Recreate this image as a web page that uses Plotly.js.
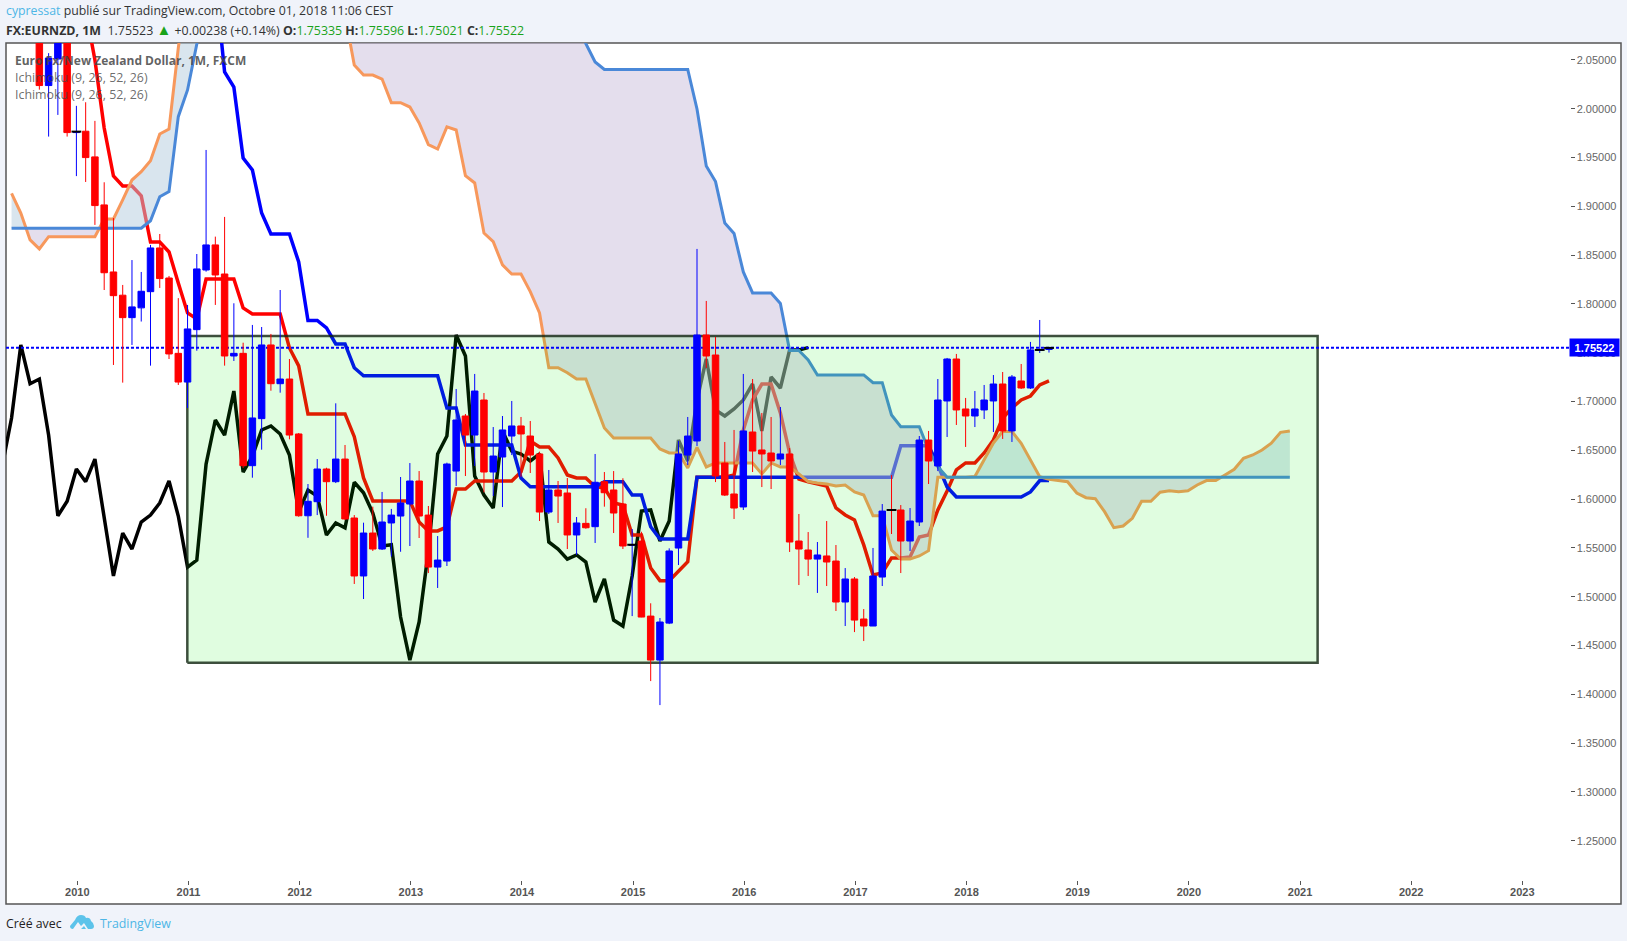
<!DOCTYPE html>
<html><head><meta charset="utf-8">
<script src="https://cdn.plot.ly/plotly-3.0.1.min.js"></script>
<style>html,body{margin:0;padding:0;background:#f0f3fa;overflow:hidden}#chart{width:1627px;height:941px}
#logo{position:absolute;left:70px;top:914px}</style></head>
<body><div id="chart"></div>
<svg id="logo" width="24" height="16" viewBox="0 0 24 16"><path fill="#5cc3ea" d="M0 12 L5 6 Q7 1 11 1 Q15 1 16 4 Q20 3 21 7 Q24 9 24 12 Q24 15 21 15 L18 15 L14 9 L11 12 L8 8 L3 15 Q0 15 0 12Z"/><path fill="#5cc3ea" d="M8 11 L11 15 L16 15 L14 12 L11 15Z"/></svg>
<script>
// month index: 0 = Jan 2010
const candleStart = -4;
const opens = [
2.09,2.0238,2.051,2.09,1.9756,1.977,1.9507,1.9015,1.8328,1.809,
1.786,1.796,1.8126,1.8574,1.8266,1.7494,1.72,1.7737,1.8348,1.8605,
1.8307,1.7467,1.7494,1.6343,1.6825,1.758,1.7183,1.7231,1.6668,1.583,
1.5974,1.6309,1.6179,1.6411,1.5807,1.5213,1.5653,1.5489,1.5756,1.5827,
1.595,1.6186,1.5837,1.5304,1.5366,1.6288,1.6852,1.6657,1.7016,1.6278,
1.6432,1.6647,1.675,1.6647,1.6463,1.5868,1.6094,1.6063,1.5633,1.5752,
1.5718,1.6179,1.6094,1.595,1.5528,1.5571,1.4802,1.4351,1.473,1.5499,
1.6452,1.6596,1.7682,1.7477,1.637,1.6053,1.592,1.6688,1.6504,1.6473,
1.6411,1.6463,1.5571,1.5479,1.5386,1.5418,1.5366,1.4946,1.5182,1.4772,
1.47,1.5202,1.589,1.5889,1.5571,1.5766,1.6606,1.634,1.7006,1.7436,
1.6924,1.6852,1.6914,1.7006,1.718,1.6699,1.7211,1.7139,1.7525,1.75335];
const highs = [
2.11,2.057,2.10,2.12,2.003,2.0067,1.9876,1.9247,1.888,1.8195,
1.845,1.8328,1.8605,1.8717,1.8287,1.806,1.799,1.8512,1.9578,1.869,
1.8892,1.8007,1.7603,1.7785,1.7764,1.7693,1.8143,1.7436,1.6678,1.6155,
1.6411,1.6322,1.6982,1.6555,1.5837,1.5759,1.5923,1.6074,1.59,1.6227,
1.637,1.6288,1.593,1.5622,1.6374,1.7129,1.6873,1.7283,1.7088,1.6739,
1.6852,1.7006,1.6842,1.6801,1.6487,1.6299,1.6186,1.6217,1.5817,1.5907,
1.6463,1.6278,1.6288,1.6214,1.5694,1.5666,1.4933,1.4782,1.5496,1.6596,
1.6842,1.8564,1.8031,1.7662,1.6586,1.6709,1.7283,1.7231,1.6883,1.6842,
1.6944,1.6524,1.5848,1.5663,1.5561,1.5776,1.553,1.5294,1.5202,1.4874,
1.55,1.595,1.6247,1.594,1.5909,1.6647,1.6699,1.7231,1.7447,1.7488,
1.7037,1.7108,1.717,1.7272,1.7303,1.7272,1.7385,1.7611,1.7836,1.75596];
const lows = [
2.0196,1.9715,1.9937,1.9715,1.931,1.925,1.881,1.8143,1.7375,1.7194,
1.758,1.782,1.7368,1.8164,1.7436,1.717,1.6934,1.7521,1.8331,1.799,
1.7368,1.7416,1.632,1.622,1.6507,1.7111,1.7091,1.6613,1.582,1.5604,
1.5837,1.583,1.6165,1.5786,1.5131,1.4977,1.5469,1.5479,1.5411,1.5461,
1.552,1.5602,1.5243,1.509,1.5315,1.6135,1.6237,1.634,1.607,1.6032,
1.5919,1.6452,1.623,1.6268,1.5776,1.5848,1.5756,1.5489,1.5428,1.5697,
1.5551,1.5923,1.5653,1.5489,1.4802,1.479,1.4136,1.389,1.472,1.5325,
1.635,1.6545,1.7344,1.6175,1.6032,1.5797,1.5889,1.6278,1.6124,1.6104,
1.635,1.5459,1.512,1.5213,1.5039,1.511,1.4854,1.47,1.4638,1.4546,
1.47,1.511,1.5643,1.5243,1.5469,1.5725,1.6155,1.6288,1.6637,1.676,
1.6535,1.6739,1.6821,1.6688,1.6617,1.6586,1.7129,1.7129,1.7498,1.75021];
const closes = [
2.0238,2.052,2.09,1.9756,1.9766,1.95,1.9008,1.832,1.8085,1.786,
1.797,1.813,1.8574,1.826,1.7488,1.72,1.7744,1.8359,1.8605,1.8297,
1.7467,1.7494,1.6343,1.6832,1.758,1.7183,1.7231,1.6657,1.583,1.5978,
1.6309,1.6179,1.6411,1.5797,1.5213,1.5653,1.5489,1.5766,1.5837,1.5961,
1.6186,1.5827,1.5304,1.5376,1.636,1.6811,1.6657,1.7108,1.6278,1.6442,
1.6709,1.675,1.6668,1.6452,1.5868,1.6094,1.6032,1.5633,1.5756,1.5707,
1.6173,1.6066,1.5858,1.552,1.5533,1.4792,1.4351,1.4741,1.5469,1.6463,
1.6647,1.7682,1.7467,1.6237,1.6042,1.5909,1.6699,1.6493,1.6463,1.6391,
1.6463,1.5561,1.5489,1.5386,1.5428,1.5356,1.4946,1.5182,1.4761,1.47,
1.5213,1.5878,1.5889,1.5571,1.5776,1.6606,1.6391,1.7016,1.7436,1.6914,
1.6852,1.6924,1.7016,1.718,1.6699,1.7252,1.7139,1.7529,1.7529,1.75522];

const dojiMonths = [0,60,88,104,105];
const dojiValues = [1.9766,1.5533,1.5889,1.7529,1.755];

const chikouStart = -8;
const chikou = [
1.6343,1.6832,1.758,1.7183,1.7231,1.6657,1.583,1.5978,1.6309,1.6179,
1.6411,1.5797,1.5213,1.5653,1.5489,1.5766,1.5837,1.5961,1.6186,1.5827,
1.5304,1.5376,1.636,1.6811,1.6657,1.7108,1.6278,1.6442,1.6709,1.675,
1.6668,1.6452,1.5868,1.6094,1.6032,1.5633,1.5756,1.5707,1.6173,1.6066,
1.5858,1.552,1.5533,1.4792,1.4351,1.4741,1.5469,1.6463,1.6647,1.7682,
1.7467,1.6237,1.6042,1.5909,1.6699,1.6493,1.6463,1.6391,1.6463,1.5561,
1.5489,1.5386,1.5428,1.5356,1.4946,1.5182,1.4761,1.47,1.5213,1.5878,
1.5889,1.5571,1.5776,1.6606,1.6391,1.7016,1.7436,1.6914,1.6852,1.6924,
1.7016,1.718,1.6699,1.7252,1.7139,1.7529,1.7529,1.75522];

const tenkanStart = 1;
const tenkan = [
2.1012,2.05,1.9803,1.9311,1.9209,1.9209,1.9107,1.8635,1.8635,1.8533,
1.8215,1.7908,1.7846,1.8256,1.8256,1.8256,1.8256,1.7959,1.7898,1.7898,
1.7898,1.7898,1.7549,1.7365,1.6873,1.6873,1.6873,1.6873,1.6873,1.664,
1.6217,1.5982,1.5982,1.5982,1.5982,1.5982,1.5766,1.5674,1.5674,1.5715,
1.6104,1.6104,1.6186,1.6186,1.6186,1.6186,1.6186,1.6279,1.6596,1.6535,
1.6535,1.6422,1.6248,1.6217,1.6217,1.6128,1.6115,1.5961,1.5941,1.5633,
1.5633,1.5295,1.5165,1.5165,1.5257,1.536,1.6224,1.6224,1.6224,1.6224,
1.6248,1.6709,1.7016,1.718,1.718,1.6883,1.6473,1.6207,1.6179,1.6156,
1.6135,1.591,1.5838,1.5787,1.5531,1.5223,1.5244,1.5398,1.5398,1.5408,
1.5613,1.5633,1.5889,1.6084,1.6299,1.6371,1.6371,1.6473,1.6607,1.6832,
1.6934,1.7016,1.7057,1.717,1.7211];

const kijunStart = 15;
const kijun = [
2.132,2.0377,2.0223,1.9496,1.9373,1.8932,1.8717,1.8717,1.8717,1.843,
1.7831,1.7831,1.7754,1.759,1.759,1.7347,1.7265,1.7265,1.7265,1.7265,
1.7265,1.7265,1.7265,1.7265,1.7265,1.6934,1.6934,1.6555,1.6555,1.6555,
1.6555,1.6555,1.6555,1.6217,1.6128,1.6128,1.6128,1.6128,1.6128,1.6128,
1.6128,1.6128,1.6179,1.6179,1.6179,1.6043,1.6043,1.5718,1.5592,1.5592,
1.5592,1.5592,1.6224,1.6224,1.6224,1.6224,1.6224,1.6224,1.6224,1.6224,
1.6224,1.6224,1.6224,1.6224,1.6224,1.6224,1.6224,1.6224,1.6224,1.6224,
1.6224,1.6224,1.6224,1.6224,1.6548,1.6548,1.6548,1.6548,1.635,1.6125,
1.6023,1.6023,1.6023,1.6023,1.6023,1.6023,1.6023,1.6023,1.6074,1.619,
1.619];

const spanStart = -7;
const spanA = [
1.9134,1.8932,1.8656,1.8564,1.869,1.869,1.869,1.869,1.869,1.869,
1.8871,1.8871,1.9066,1.927,1.9356,1.9468,1.9742,1.9793,2.0623,2.132,
2.15,2.15,2.15,2.15,2.15,2.15,2.15,2.15,2.15,2.15,
2.15,2.15,2.15,2.15,2.15,2.15,2.0961,2.0449,2.0346,2.0346,
2.0305,2.0063,2.0063,2.0018,1.9855,1.9632,1.9588,1.9814,1.9783,1.9315,
1.924,1.8727,1.8638,1.84,1.8307,1.8307,1.8126,1.7908,1.7347,1.7347,
1.7296,1.7232,1.7232,1.6986,1.673,1.6627,1.6627,1.6627,1.6627,1.6627,
1.6514,1.6473,1.6473,1.632,1.653,1.633,1.6371,1.6371,1.6371,1.6371,
1.6371,1.6258,1.6371,1.633,1.633,1.6258,1.6179,1.6166,1.6156,1.6135,
1.6145,1.6074,1.6043,1.5831,1.5831,1.5479,1.5387,1.5387,1.5418,1.5472,
1.6224,1.6224,1.6224,1.6224,1.6232,1.6402,1.6576,1.6692,1.6692,1.6573,
1.6402,1.6231,1.6204,1.619,1.6179,1.6063,1.6015,1.6005,1.5872,1.5708,
1.5725,1.5804,1.5978,1.5978,1.6071,1.6087,1.6077,1.6087,1.6145,1.619,
1.619,1.6248,1.6306,1.6419,1.6453,1.6504,1.6573,1.6685,1.6699];
const spanB = [
1.8776,1.8776,1.8776,1.8776,1.8776,1.8776,1.8776,1.8776,1.8776,1.8776,
1.8776,1.8776,1.8776,1.8776,1.8776,1.8853,1.9099,1.9151,1.9919,2.0193,
2.0664,2.132,2.2,2.2,2.2,2.2,2.2,2.2,2.2,2.2,
2.2,2.2,2.2,2.2,2.2,2.2,2.2,2.2,2.2,2.2,
2.2,2.2,2.2,2.2,2.2,2.2,2.2,2.2,2.2,2.2,
2.2,2.2,2.2,2.2,2.2,2.2,2.2,2.2,2.2,2.2,
2.2,2.091,2.0668,2.048,2.0403,2.0403,2.0403,2.0403,2.0403,2.0403,
2.0403,2.0403,2.0403,2.0403,1.9998,1.9414,1.9254,1.883,1.8722,1.8328,
1.8113,1.8113,1.8113,1.8005,1.7524,1.7524,1.7426,1.7273,1.7273,1.7273,
1.7273,1.7273,1.7273,1.7194,1.7194,1.6863,1.6743,1.6743,1.6743,1.6504,
1.6333,1.6224,1.6224,1.6224,1.6224,1.6224,1.6224,1.6224,1.6224,1.6224,
1.6224,1.6224,1.6224,1.6224,1.6224,1.6224,1.6224,1.6224,1.6224,1.6224,
1.6224,1.6224,1.6224,1.6224,1.6224,1.6224,1.6224,1.6224,1.6224,1.6224,
1.6224,1.6224,1.6224,1.6224,1.6224,1.6224,1.6224,1.6224,1.6224];

const lastPrice = 1.75522;
const zoneMonths = [11.975,134.0];
const zonePrices = [1.4325,1.7672];
const yearTicks = [0.1,12.1,24.1,36.1,48.1,60.1,72.1,84.1,96.1,108.1,120.1,132.1,144.1,156.1];
const yearLabels = ['2010','2011','2012','2013','2014','2015','2016','2017','2018','2019','2020','2021','2022','2023'];
const priceTicks = [1.25,1.3,1.35,1.4,1.45,1.5,1.55,1.6,1.65,1.7,1.75,1.8,1.85,1.9,1.95,2,2.05];

const monthsFrom = (start,len)=>Array.from({length:len},(_,i)=>start+i);
const CW=1627,CH=941,L=6,R=1569,T=43,B=879;
const px=x=>(x-L)/(R-L), py=y=>(B-y)/(B-T);

// cloud: merge A/B with their crossings
const cx=[],ca=[],cb=[];
for(let i=0;i<spanA.length;i++){
  const n=spanStart+i;
  cx.push(n);ca.push(spanA[i]);cb.push(spanB[i]);
  if(i<spanA.length-1){
    const d0=spanA[i]-spanB[i],d1=spanA[i+1]-spanB[i+1];
    if(d0*d1<0){const t=d0/(d0-d1),v=spanA[i]+t*(spanA[i+1]-spanA[i]);cx.push(n+t);ca.push(v);cb.push(v);}
  }
}
const lower=ca.map((v,i)=>Math.min(v,cb[i]));
const noLine={width:0,color:'rgba(0,0,0,0)'};

const traces=[
 {type:'scatter',mode:'lines',x:monthsFrom(chikouStart,chikou.length),y:chikou,line:{color:'#000',width:3.5},zorder:-1},
 {type:'scatter',mode:'lines',x:monthsFrom(tenkanStart,tenkan.length),y:tenkan,line:{color:'#ff0000',width:3.5},zorder:-1},
 {type:'scatter',mode:'lines',x:monthsFrom(kijunStart,kijun.length),y:kijun,line:{color:'#0000ff',width:3.5},zorder:-1},
 {type:'scatter',mode:'lines',x:cx,y:lower,line:noLine,zorder:-1},
 {type:'scatter',mode:'lines',x:cx,y:ca,fill:'tonexty',fillcolor:'rgba(180,204,222,0.5)',line:noLine,zorder:-1},
 {type:'scatter',mode:'lines',x:cx,y:lower,line:noLine,zorder:-1},
 {type:'scatter',mode:'lines',x:cx,y:cb,fill:'tonexty',fillcolor:'rgba(201,189,219,0.5)',line:noLine,zorder:-1},
 {type:'scatter',mode:'lines',x:monthsFrom(spanStart,spanA.length),y:spanA,line:{color:'#f7985c',width:3},zorder:-1},
 {type:'scatter',mode:'lines',x:monthsFrom(spanStart,spanB.length),y:spanB,line:{color:'#4a88d8',width:3},zorder:-1},
 {type:'scatter',mode:'lines',
  x:[zoneMonths[0],zoneMonths[1],zoneMonths[1],zoneMonths[0],zoneMonths[0]],
  y:[zonePrices[0],zonePrices[0],zonePrices[1],zonePrices[1],zonePrices[0]],
  fill:'toself',fillcolor:'rgba(0,238,0,0.12)',line:{color:'rgba(15,35,15,0.8)',width:2.5},zorder:-1},
 {type:'scatter',mode:'lines',x:[-7.6,161.14],y:[lastPrice,lastPrice],line:{color:'#0000ff',width:2,dash:'3px,2px'},zorder:-1},
 {type:'candlestick',x:monthsFrom(candleStart,opens.length),open:opens,high:highs,low:lows,close:closes,
  increasing:{line:{color:'#0000ff',width:1},fillcolor:'#0000ff'},
  decreasing:{line:{color:'#ff0000',width:1},fillcolor:'#ff0000'},whiskerwidth:0},
 {type:'scatter',mode:'markers',x:dojiMonths,y:dojiValues,marker:{symbol:'line-ew',size:7,line:{color:'#000',width:2}},zorder:1}
];

const ann=(text,x,y,size,color,extra)=>Object.assign({text,xref:'paper',yref:'paper',x:px(x),y:py(y),xanchor:'left',yanchor:'middle',showarrow:false,
  font:{family:'"Open Sans",sans-serif',size,color},borderpad:0,borderwidth:0},extra||{});
const g=s=>'<span style="color:#1aa31a">'+s+'</span>';
const annotations=[
 ann('<span style="color:#4db6e6">cypressat</span> publié sur TradingView.com, Octobre 01, 2018 11:06 CEST',5.5,10.5,12.3,'#333'),
 ann('<b>FX:EURNZD, 1M</b>  1.75523 <span style="color:#1aa31a;font-size:15px">▲</span> +0.00238 (+0.14%) <b>O:</b>'+g('1.75335')+' <b>H:</b>'+g('1.75596')+' <b>L:</b>'+g('1.75021')+' <b>C:</b>'+g('1.75522'),5.5,29,12.4,'#333'),
 ann('<b>Euro Fx/New Zealand Dollar, 1M, FXCM</b>',14.5,60,12,'rgba(70,70,70,0.85)'),
 ann('Ichimoku (9, 26, 52, 26)',14.5,77.5,12.4,'rgba(70,70,70,0.8)'),
 ann('Ichimoku (9, 26, 52, 26)',14.5,94.5,12.4,'rgba(70,70,70,0.8)'),
 ann('Créé avec',6,923,12.3,'#222'),
 ann('TradingView',100,923,12.4,'#4db6e6'),
 {text:'<b>1.75522</b>',xref:'paper',yref:'y',x:px(1569),y:lastPrice,xanchor:'left',yanchor:'middle',showarrow:false,
  width:49,height:17,bgcolor:'#0000ff',font:{family:'"Liberation Sans",sans-serif',size:11,color:'#fff'},align:'center',borderpad:0}
];

const layout={
 width:CW,height:CH,autosize:false,showlegend:false,hovermode:false,
 paper_bgcolor:'#f0f3fa',plot_bgcolor:'#ffffff',
 margin:{l:L,r:CW-R,t:T,b:CH-B,pad:0},boxgap:0.3,boxgroupgap:0,
 xaxis:{type:'linear',range:[-7.6,161.14],tickmode:'array',tickvals:yearTicks,ticktext:yearLabels,showgrid:false,zeroline:false,
  ticks:'outside',ticklen:4,tickcolor:'#555',showline:true,linecolor:'#555',linewidth:1.5,ticklabelstandoff:-2,
  rangeslider:{visible:false},fixedrange:true,
  tickfont:{family:'"Liberation Sans",sans-serif',size:11,color:'#555',weight:700}},
 yaxis:{type:'linear',side:'right',range:[1.2108,2.0674],tickmode:'array',tickvals:priceTicks,tickformat:'.5f',showgrid:false,zeroline:false,
  ticks:'outside',ticklen:4,tickcolor:'#555',showline:true,linecolor:'#555',linewidth:1.5,fixedrange:true,
  tickfont:{family:'"Liberation Sans",sans-serif',size:11,color:'#666'}},
 shapes:[{type:'rect',xref:'paper',yref:'paper',layer:'below',x0:0,y0:py(904),x1:px(1621),y1:1,fillcolor:'#fff',line:{color:'#555',width:1.5}}],
 annotations
};
Plotly.newPlot('chart',traces,layout,{staticPlot:true,displayModeBar:false});
</script></body></html>
